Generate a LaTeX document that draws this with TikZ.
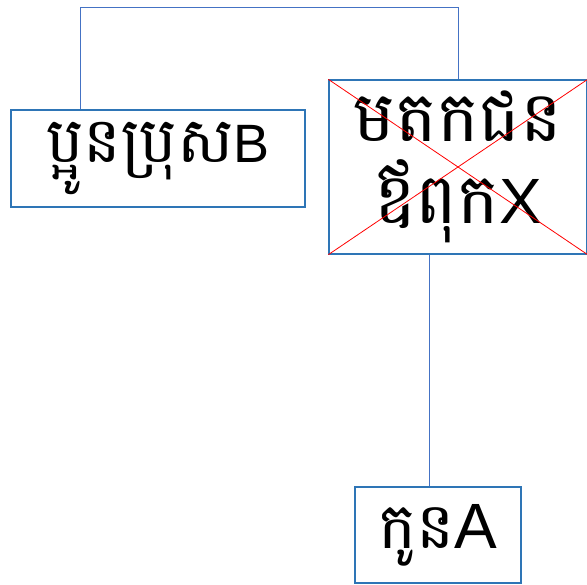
\documentclass[tikz,border=0pt]{standalone}
\usepackage{fontspec}
\newfontfamily\khmerfont[Script=Khmer]{Battambang}
\newfontfamily\latinfont{Liberation Sans}
\usetikzlibrary{positioning, calc}
\definecolor{boxblue}{HTML}{2E75B6}
\definecolor{lineblue}{HTML}{4472C4}

\begin{document}
\begin{tikzpicture}[x=1pt, y=-1pt,
    person/.style={draw=boxblue, line width=1.3pt, rectangle, align=center,
      inner sep=0pt, font=\khmerfont},
    link/.style={draw=lineblue, line width=0.7pt}]
  \useasboundingbox (0,0) rectangle (587,585);
      \node[person, minimum width=294pt, minimum height=97pt,
        font=\khmerfont\fontsize{63}{70}\selectfont]
        (brotherB) at (158,158.5) {ប្អូនប្រុស{\latinfont\fontsize{54}{60}\selectfont B}};
      \node[person, minimum width=258pt, minimum height=174pt,
        font=\khmerfont\fontsize{70}{82}\selectfont]
        (deceasedX) at (458,167) {មតកជន\\ឪពុក{\latinfont\fontsize{64}{82}\selectfont X}};
      \node[person, minimum width=166pt, minimum height=96pt,
        font=\khmerfont\fontsize{64}{70}\selectfont]
        (childA) at (438,535) {កូន{\latinfont A}};
      \draw[red, line width=0.8pt] (deceasedX.north west) -- (deceasedX.south east);
      \draw[red, line width=0.8pt] (deceasedX.south west) -- (deceasedX.north east);
      \coordinate (top) at (80,7);
      \coordinate (drop) at (429,0);
      \draw[link] (brotherB.north -| top) -- (top) -| (deceasedX.north);
      \draw[link] (deceasedX.south -| drop) -- (childA.north -| drop);
    \end{tikzpicture}
\end{document}
